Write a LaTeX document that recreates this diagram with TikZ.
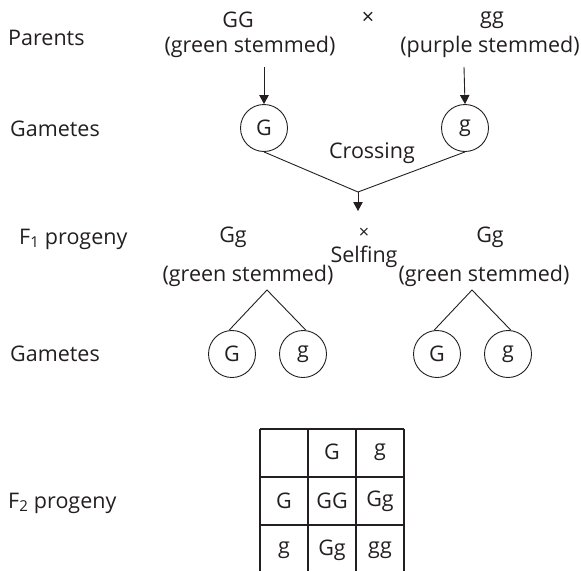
\documentclass[tikz,border=0pt]{standalone}
\usepackage{fontspec}
\setmainfont{Open Sans}
\usetikzlibrary{arrows.meta}
\definecolor{ink}{HTML}{231F20}
\begin{document}
\begin{tikzpicture}[x=1pt,y=-1pt,
  every node/.style={text=ink, font=\fontsize{21.5}{25}\selectfont, inner sep=0pt},
  lbl/.style={anchor=west},
  gam/.style={circle, draw=ink, line width=0.9pt, minimum size=47pt},
  conn/.style={draw=ink, line width=0.9pt},
  arr/.style={conn, -{Triangle[length=9pt,width=9.5pt]}},
  grid/.style={draw=ink, line width=1.2pt}]
\useasboundingbox (0,0) rectangle (581,571);
% left labels
\node[lbl] (lp) at (8,38) {Parents};
\node[lbl] (lg1) at (10,129) {Gametes};
\node[lbl] (lf1) at (19,239) {F\textsubscript{1} progeny};
\node[lbl] (lg2) at (10,354) {Gametes};
\node[lbl] (lf2) at (8,503) {F\textsubscript{2} progeny};
% parents
\node (pGG) at (238,20) {GG};
\node (pGGd) at (250,47) {(green stemmed)};
\node (px) at (368,18) {×};
\node (pgg) at (492,20) {gg};
\node (pggd) at (490,47) {(purple stemmed)};
\coordinate (a1s) at (264,67);
\coordinate (a2s) at (464,67);
\node[gam] (gG) at (264,128) {G};
\node[gam] (gg) at (465,128) {g};
\draw[arr] (a1s) -- (gG.north);
\draw[arr] (a2s) -- (gg.north);
\node (cross) at (372,153) {Crossing};
\coordinate (j) at (358,192);
\coordinate (jt) at (358,211);
\draw[conn] (gG.south) -- (j) -- (gg.south);
\draw[arr] (j) -- (jt);
% F1
\node (fGg1) at (233,237) {Gg};
\node (fGg1d) at (248,276) {(green stemmed)};
\node[font=\fontsize{18}{20}\selectfont] (fx) at (364,233) {×};
\node (self) at (364,257) {Selfing};
\node (fGg2) at (490,237) {Gg};
\node (fGg2d) at (484,276) {(green stemmed)};
\coordinate (ap1) at (267,290);
\coordinate (ap2) at (472,290);
\node[gam] (c1) at (232,354) {G};
\node[gam] (c2) at (303,354) {g};
\node[gam] (c3) at (437,354) {G};
\node[gam] (c4) at (508,354) {g};
\draw[conn] (c1.97) -- (ap1) -- (c2.83);
\draw[conn] (c3.97) -- (ap2) -- (c4.83);
% Punnett square
\draw[grid] (260,429) -- (404,429);
\draw[grid] (260,477) -- (404,477);
\draw[grid] (260,525) -- (404,525);
\draw[grid] (260,429) -- (260,571);
\draw[grid] (308,429) -- (308,571);
\draw[grid] (356,429) -- (356,571);
\draw[grid] (404,429) -- (404,571);
\node (t12) at (332,452) {G};
\node (t13) at (380,452) {g};
\node (t21) at (284,501) {G};
\node (t22) at (332,501) {GG};
\node (t23) at (380,501) {Gg};
\node (t31) at (284,550) {g};
\node (t32) at (332,550) {Gg};
\node (t33) at (380,550) {gg};
\end{tikzpicture}
\end{document}
